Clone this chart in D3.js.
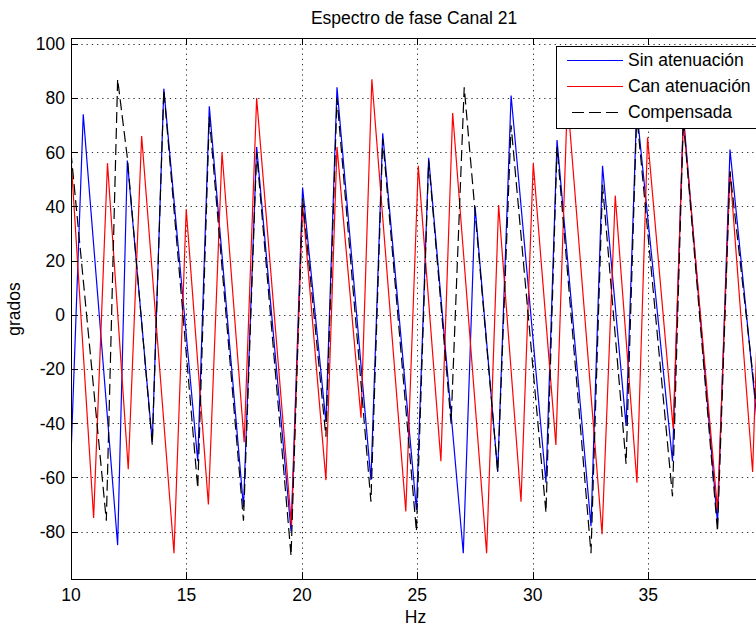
<!DOCTYPE html>
<html>
<head>
<meta charset="utf-8">
<script src="https://cdn.jsdelivr.net/npm/d3@7"></script>
<style>
  html, body { margin: 0; padding: 0; background: #fff; }
  svg { display: block; font-family: "Liberation Sans", Arial, sans-serif; }
</style>
</head>
<body>
<svg id="chart" width="756" height="626"></svg>
<script>
// Phase spectrum vertices (Hz, degrees) for each channel variant
const sinHz  = [10.0, 10.53, 12.02, 12.44, 13.52, 14.02, 15.49, 15.99, 17.47, 18.04, 19.53, 20.03, 21.04, 21.52, 22.99, 23.5, 24.96, 25.49, 26.99, 27.5, 28.48, 29.06, 30.57, 31.05, 32.52, 33.02, 34.04, 34.5, 36.05, 36.52, 38.0, 38.54, 39.9];
const sinDeg = [-52, 74, -85, 57, -47, 83.5, -54, 77, -71, 62, -80, 47, -39.5, 84, -61, 67, -72, 58, -88, 40, -58, 81, -62, 64.5, -78, 55, -41, 76, -54, 74, -77, 61, -55];

const canHz  = [10.0, 10.98, 11.58, 12.48, 13.06, 14.46, 14.99, 15.95, 16.54, 17.5, 18.04, 19.55, 20.03, 21.04, 21.52, 22.56, 23.03, 24.5, 25.04, 26.02, 26.53, 28.0, 28.52, 29.49, 30.02, 31.0, 31.5, 33.0, 33.57, 34.51, 34.97, 36.08, 36.52, 38.0, 38.54, 39.52, 39.8];
const canDeg = [58, -75, 56, -57, 66, -88, 39, -70, 60, -47, 80, -78, 41, -61, 62, -38, 87, -72.6, 55, -54, 74.5, -88, 40.5, -69, 56, -48, 80, -81, 44, -62, 65.5, -42, 72, -72, 53, -58, 15];

const compHz  = [10.0, 11.53, 12.02, 12.44, 13.52, 14.02, 15.49, 15.99, 17.47, 18.04, 19.53, 20.03, 21.04, 21.52, 22.99, 23.5, 24.96, 25.49, 26.46, 27.03, 28.48, 29.06, 30.57, 31.05, 32.52, 33.02, 34.04, 34.5, 36.05, 36.52, 38.0, 38.54, 39.9];
const compDeg = [60, -76, 87, 58, -48, 83, -64, 73, -76, 60, -89, 43, -45, 80, -69, 65, -80, 57, -40, 84, -58, 70, -73, 62, -88, 48, -55, 74, -67, 72, -80, 53, -50];

const xTicks = [10, 15, 20, 25, 30, 35, 40];
const yTicks = [-80, -60, -40, -20, 0, 20, 40, 60, 80, 100];

const seriesNames  = ["Sin atenuación", "Can atenuación", "Compensada"];
const seriesColors = ["#0000ff", "#ff0000", "#000000"];
const seriesDash   = [null, null, "11,5"];

const titleText = "Espectro de fase Canal 21";
const xLabel = "Hz";
const yLabel = "grados";

const svg = d3.select("#chart");
const fontSize = 17.5;

const x = d3.scaleLinear().domain([10, 40]).range([71, 763.7]);
const y = d3.scaleLinear().domain([-97.4, 102.2]).range([578.7, 38]);
const [x0, x1] = x.range();
const [y0, y1] = [y.range()[1], y.range()[0]];

svg.append("rect").attr("width", 756).attr("height", 626).attr("fill", "#fff");

svg.append("defs").append("clipPath").attr("id", "plotClip")
  .append("rect").attr("x", x0).attr("y", y0).attr("width", x1 - x0).attr("height", y1 - y0);

// dotted grid
const grid = svg.append("g").attr("stroke", "#333").attr("stroke-width", 1)
  .attr("stroke-dasharray", "1.3,3.9");
grid.selectAll(".gx").data(xTicks.filter(t => t > 10)).join("line")
  .attr("x1", d => Math.round(x(d)) + 0.5).attr("x2", d => Math.round(x(d)) + 0.5)
  .attr("y1", y0).attr("y2", y1);
grid.selectAll(".gy").data(yTicks).join("line")
  .attr("y1", d => Math.round(y(d)) + 0.5).attr("y2", d => Math.round(y(d)) + 0.5)
  .attr("x1", x0).attr("x2", x1);

// series
const plot = svg.append("g").attr("clip-path", "url(#plotClip)");
const line = d3.line().x(d => x(d[0])).y(d => y(d[1]));
const seriesData = [
  sinHz.map((h, i) => [h, sinDeg[i]]),
  canHz.map((h, i) => [h, canDeg[i]]),
  compHz.map((h, i) => [h, compDeg[i]])
];
seriesData.forEach((pts, i) => {
  plot.append("path").datum(pts)
    .attr("d", line)
    .attr("fill", "none")
    .attr("stroke", seriesColors[i])
    .attr("stroke-width", 1.2)
    .attr("stroke-linejoin", "miter")
    .attr("stroke-dasharray", seriesDash[i]);
});

// axes (ticks inside the box, MATLAB style)
const tickLen = 7;
const axisG = svg.append("g").attr("stroke", "#000").attr("stroke-width", 1);
axisG.append("rect").attr("x", x0 + 0.5).attr("y", Math.round(y0) + 0.5)
  .attr("width", x1 - x0).attr("height", Math.round(y1) - Math.round(y0))
  .attr("fill", "none");
axisG.selectAll(".tb").data(xTicks).join("line")
  .attr("x1", d => Math.round(x(d)) + 0.5).attr("x2", d => Math.round(x(d)) + 0.5)
  .attr("y1", Math.round(y1)).attr("y2", Math.round(y1) - tickLen);
axisG.selectAll(".tt").data(xTicks).join("line")
  .attr("x1", d => Math.round(x(d)) + 0.5).attr("x2", d => Math.round(x(d)) + 0.5)
  .attr("y1", Math.round(y0)).attr("y2", Math.round(y0) + tickLen);
axisG.selectAll(".tl").data(yTicks).join("line")
  .attr("y1", d => Math.round(y(d)) + 0.5).attr("y2", d => Math.round(y(d)) + 0.5)
  .attr("x1", x0).attr("x2", x0 + tickLen);

// tick labels
svg.append("g").selectAll("text").data(xTicks.filter(t => x(t) < 756)).join("text")
  .attr("x", d => x(d)).attr("y", 601)
  .attr("text-anchor", "middle").attr("font-size", fontSize).attr("fill", "#000")
  .text(d => d);
svg.append("g").selectAll("text").data(yTicks).join("text")
  .attr("x", 65).attr("y", d => y(d)).attr("dy", "0.36em")
  .attr("text-anchor", "end").attr("font-size", fontSize).attr("fill", "#000")
  .text(d => d);

// titles
svg.append("text").attr("x", 414).attr("y", 24).attr("text-anchor", "middle")
  .attr("font-size", fontSize).text(titleText);
svg.append("text").attr("x", 415.5).attr("y", 623).attr("text-anchor", "middle")
  .attr("font-size", fontSize).text(xLabel);
svg.append("text").attr("transform", "translate(20,309) rotate(-90)")
  .attr("text-anchor", "middle").attr("font-size", fontSize).text(yLabel);

// legend
const lg = svg.append("g");
lg.append("rect").attr("x", 556.5).attr("y", 46.5).attr("width", 215).attr("height", 82)
  .attr("fill", "#fff").attr("stroke", "#000").attr("stroke-width", 1);
const rowY = [60, 86, 112];
seriesNames.forEach((name, i) => {
  lg.append("line").attr("x1", 567).attr("x2", 623)
    .attr("y1", rowY[i] + 0.5).attr("y2", rowY[i] + 0.5)
    .attr("stroke", seriesColors[i]).attr("stroke-width", 1.2)
    .attr("stroke-dasharray", i === 2 ? "12,5" : null)
    .attr("stroke-dashoffset", i === 2 ? -5 : null);
  lg.append("text").attr("x", 628).attr("y", rowY[i]).attr("dy", "0.36em")
    .attr("font-size", fontSize).text(name);
});
</script>
</body>
</html>
